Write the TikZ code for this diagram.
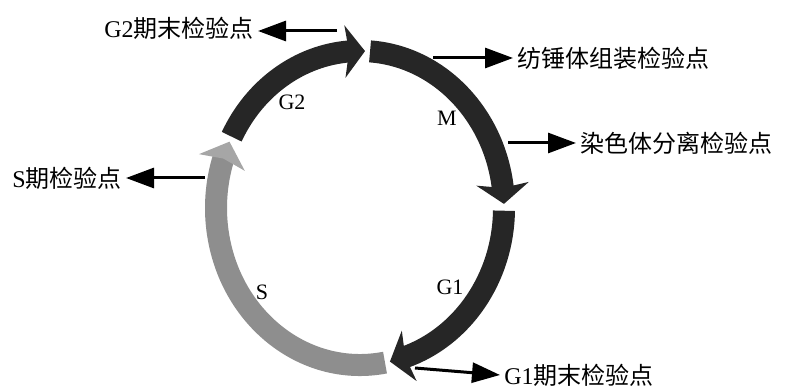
\documentclass[tikz,border=0pt]{standalone}
\usepackage{fontspec}
\setmainfont{Liberation Serif}
\newfontfamily\cjk{Noto Sans CJK SC}
\usetikzlibrary{arrows.meta,bending,positioning,calc}
\definecolor{phasedark}{HTML}{262626}
\definecolor{phasegray}{HTML}{8E8E8E}
\definecolor{phasegrayhead}{HTML}{A6A6A6}

\begin{document}
\begin{tikzpicture}[x=0.5pt,y=0.5pt,
		phasearc/.style={line width=11pt, draw=phasedark, -{Stealth[width=26pt,length=10pt,inset=2pt]}},
		sarc/.style={line width=11pt, draw=phasegray, -{Stealth[width=24pt,length=11pt,inset=2pt,color=phasegrayhead]}},
		checkarrow/.style={line width=1.5pt, -{Triangle[width=10pt,length=14pt]}},
		checktext/.style={font=\fontsize{12}{14}\selectfont, inner sep=2pt},
		phasename/.style={font=\fontsize{11}{13}\selectfont}
		]
		\useasboundingbox (0,0) rectangle (787,390);
		\coordinate (c) at (360,182);
		
		% cycle phases, clockwise
		\coordinate (Sstart) at ($(c)+(-80:144 and 157)$);
		\draw[sarc] (Sstart) arc[start angle=-80, end angle=-205, x radius=144, y radius=157];
		\coordinate (G2start) at ($(c)+(153:144 and 157)$);
		\draw[phasearc] (G2start) arc[start angle=153, end angle=88, x radius=144, y radius=157];
		\coordinate (Mstart) at ($(c)+(86:144 and 157)$);
		\draw[phasearc] (Mstart) arc[start angle=86, end angle=1.5, x radius=144, y radius=157];
		\coordinate (G1start) at ($(c)+(-1:144 and 157)$);
		\draw[phasearc] (G1start) arc[start angle=-1, end angle=-78, x radius=144, y radius=157];
		
		\node[phasename] (nameG2) at (292,288) {G2};
		\node[phasename] (nameM) at (447,272) {M};
		\node[phasename] (nameS) at (262,98) {S};
		\node[phasename] (nameG1) at (450,103) {G1};
		
		% checkpoints
		\node[checktext, anchor=east] (g2check) at (258,362) {G2{\cjk 期末检验点}};
		\coordinate (g2pt) at (337,359);
		\draw[checkarrow] (g2pt) -- (g2pt -| g2check.east);
		
		\node[checktext, anchor=west] (spindle) at (513,332) {{\cjk 纺锤体组装检验点}};
		\coordinate (spindlept) at (433,332);
		\draw[checkarrow] (spindlept) -- (spindle.west);
		
		\node[checktext, anchor=west] (chromo) at (576,247) {{\cjk 染色体分离检验点}};
		\coordinate (chromopt) at (508,247);
		\draw[checkarrow] (chromopt) -- (chromo.west);
		
		\node[checktext, anchor=east] (scheck) at (126,212) {S{\cjk 期检验点}};
		\coordinate (spt) at (205,212);
		\draw[checkarrow] (spt) -- (scheck.east);
		
		\node[checktext, anchor=west] (g1check) at (500,15) {G1{\cjk 期末检验点}};
		\coordinate (g1pt) at (415,22);
		\draw[checkarrow] (g1pt) -- (g1check.west);
		
	\end{tikzpicture}
\end{document}
